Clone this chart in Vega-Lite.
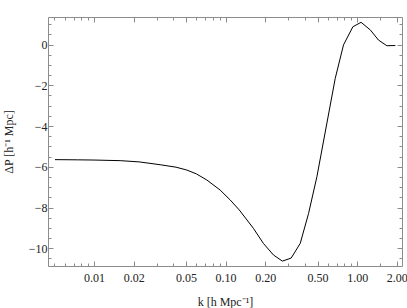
{
  "$schema": "https://vega.github.io/schema/vega-lite/v6.json",
  "width": 354,
  "height": 249,
  "autosize": {"type": "none"},
  "padding": {"left": 48, "top": 17, "right": 5, "bottom": 42},
  "background": "white",
  "config": {
    "view": {"stroke": null},
    "font": "Liberation Serif",
    "axis": {
      "grid": false,
      "domainColor": "#8c8c8c",
      "domainWidth": 1,
      "tickColor": "#8c8c8c",
      "tickWidth": 1,
      "labelFont": "Liberation Serif",
      "labelFontSize": 12,
      "labelColor": "#222222",
      "titleFont": "Liberation Serif",
      "titleFontSize": 12,
      "titleFontWeight": "normal",
      "titleColor": "#222222"
    }
  },
  "data": {
    "values": [
      {"k": 0.00505, "dP": -5.65},
      {"k": 0.0075, "dP": -5.66},
      {"k": 0.01, "dP": -5.67},
      {"k": 0.0158, "dP": -5.70},
      {"k": 0.022, "dP": -5.76},
      {"k": 0.0318, "dP": -5.90},
      {"k": 0.042, "dP": -6.02},
      {"k": 0.0507, "dP": -6.16},
      {"k": 0.06, "dP": -6.35},
      {"k": 0.072, "dP": -6.65},
      {"k": 0.0908, "dP": -7.14},
      {"k": 0.108, "dP": -7.62},
      {"k": 0.127, "dP": -8.12},
      {"k": 0.1626, "dP": -9.02},
      {"k": 0.1936, "dP": -9.76},
      {"k": 0.231, "dP": -10.33},
      {"k": 0.270, "dP": -10.63},
      {"k": 0.315, "dP": -10.48},
      {"k": 0.369, "dP": -9.76},
      {"k": 0.427, "dP": -8.29},
      {"k": 0.494, "dP": -6.49},
      {"k": 0.681, "dP": -1.66},
      {"k": 0.787, "dP": -0.02},
      {"k": 0.927, "dP": 0.87},
      {"k": 1.07, "dP": 1.09},
      {"k": 1.26, "dP": 0.71},
      {"k": 1.45, "dP": 0.22},
      {"k": 1.68, "dP": -0.06},
      {"k": 1.95, "dP": -0.05}
    ]
  },
  "resolve": {"axis": {"x": "independent", "y": "independent"}},
  "layer": [
    {
      "mark": {"type": "line", "color": "#000000", "strokeWidth": 1, "clip": true},
      "encoding": {
        "x": {
          "field": "k", "type": "quantitative",
          "scale": {"type": "log", "domain": [0.00447, 2.19], "nice": false, "zero": false},
          "axis": {
            "orient": "bottom",
            "title": "k [h Mpc⁻¹]",
            "titlePadding": 11,
            "values": [0.005, 0.006, 0.007, 0.008, 0.009, 0.01, 0.02, 0.03, 0.04, 0.05, 0.06, 0.07, 0.08, 0.09, 0.1, 0.2, 0.3, 0.4, 0.5, 0.6, 0.7, 0.8, 0.9, 1, 1.5, 2],
            "labelExpr": "indexof([0.01,0.02,0.05,0.1,0.2,0.5,1,2], datum.value) >= 0 ? format(datum.value, '.2f') : ''",
            "tickSize": {"condition": {"test": "indexof([0.01,0.02,0.05,0.1,0.2,0.5,1,2], datum.value) >= 0", "value": -5}, "value": -3},
            "labelPadding": 11,
            "labelFlush": false,
            "labelOverlap": false
          }
        },
        "y": {
          "field": "dP", "type": "quantitative",
          "scale": {"domain": [-10.87, 1.35], "nice": false, "zero": false},
          "axis": {
            "orient": "left",
            "title": "ΔP [h⁻¹ Mpc]",
            "titlePadding": 13,
            "values": [-10.5, -10, -9.5, -9, -8.5, -8, -7.5, -7, -6.5, -6, -5.5, -5, -4.5, -4, -3.5, -3, -2.5, -2, -1.5, -1, -0.5, 0, 0.5, 1],
            "labelExpr": "datum.value % 2 == 0 ? format(datum.value, 'd') : ''",
            "tickSize": {"condition": {"test": "datum.value % 2 == 0", "value": -5}, "value": -3},
            "labelPadding": 6,
            "labelFlush": false,
            "labelOverlap": false
          }
        }
      }
    },
    {
      "mark": {"type": "line", "color": "#000000", "strokeWidth": 1, "opacity": 0},
      "encoding": {
        "x": {
          "field": "k", "type": "quantitative",
          "scale": {"type": "log", "domain": [0.00447, 2.19], "nice": false, "zero": false},
          "axis": {
            "orient": "top",
            "title": null,
            "labels": false,
            "values": [0.005, 0.006, 0.007, 0.008, 0.009, 0.01, 0.02, 0.03, 0.04, 0.05, 0.06, 0.07, 0.08, 0.09, 0.1, 0.2, 0.3, 0.4, 0.5, 0.6, 0.7, 0.8, 0.9, 1, 1.5, 2],
            "tickSize": {"condition": {"test": "indexof([0.01,0.02,0.05,0.1,0.2,0.5,1,2], datum.value) >= 0", "value": -5}, "value": -3}
          }
        },
        "y": {
          "field": "dP", "type": "quantitative",
          "scale": {"domain": [-10.87, 1.35], "nice": false, "zero": false},
          "axis": {
            "orient": "right",
            "title": null,
            "labels": false,
            "values": [-10.5, -10, -9.5, -9, -8.5, -8, -7.5, -7, -6.5, -6, -5.5, -5, -4.5, -4, -3.5, -3, -2.5, -2, -1.5, -1, -0.5, 0, 0.5, 1],
            "tickSize": {"condition": {"test": "datum.value % 2 == 0", "value": -5}, "value": -3}
          }
        }
      }
    }
  ]
}
